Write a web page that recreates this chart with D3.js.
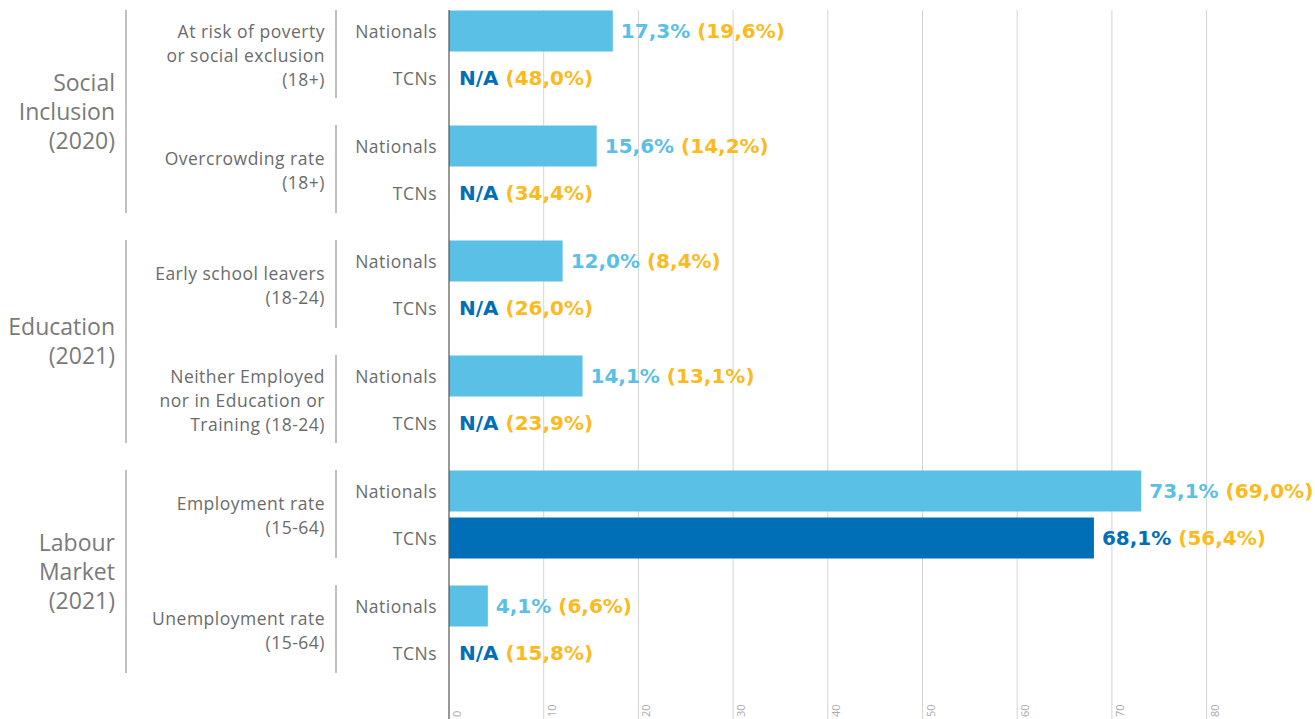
<!DOCTYPE html>
<html>
<head>
<meta charset="utf-8">
<script src="https://cdn.jsdelivr.net/npm/d3@7"></script>
<style>
  body { margin: 0; background: #fff; overflow: hidden; }
  text { font-family: "Open Sans", sans-serif; }
  text.val { font-family: "DejaVu Sans", sans-serif; }
</style>
</head>
<body>
<script>
// data
var sections = ["Social Inclusion (2020)", "Education (2021)", "Labour Market (2021)"];
var sectionLines = [["Social", "Inclusion", "(2020)"], ["Education", "(2021)"], ["Labour", "Market", "(2021)"]];
var metrics = ["poverty", "overcrowding", "earlyleavers", "neet", "employment", "unemployment"];
var metricSection = [0, 0, 1, 1, 2, 2];
var metricLines = [
    ["At risk of poverty", "or social exclusion", "(18+)"],
    ["Overcrowding rate", "(18+)"],
    ["Early school leavers", "(18-24)"],
    ["Neither Employed", "nor in Education or", "Training (18-24)"],
    ["Employment rate", "(15-64)"],
    ["Unemployment rate", "(15-64)"]
];
var series = ["Nationals", "TCNs"];
var nationals = [17.3, 15.6, 12.0, 14.1, 73.1, 4.1];
var tcns = [null, null, null, null, 68.1, null];      // null = N/A
var nationalsRef = [19.6, 14.2, 8.4, 13.1, 69.0, 6.6]; // values in brackets
var tcnsRef = [48.0, 34.4, 26.0, 23.9, 56.4, 15.8];
var xTicks = [0, 10, 20, 30, 40, 50, 60, 70, 80];

var width = 1315, height = 719;
var lightBlue = "#5bc0e6", darkBlue = "#006fb7", yellow = "#fcba1e";

var svg = d3.select("body").append("svg")
    .attr("width", width)
    .attr("height", height);

var x = d3.scaleLinear().domain([0, 90]).range([449, 449 + 90 * 9.47]);

// group bands (one per metric), then a row band inside each
var y = d3.scaleBand().domain(metrics).range([7.5, 676.5]).paddingInner(21 / 115);
var yRow = d3.scaleBand().domain(series).range([0, y.bandwidth()]);

// gridlines
svg.append("g").selectAll("line").data(xTicks.slice(1))
    .enter().append("line")
    .attr("x1", d => x(d)).attr("x2", d => x(d))
    .attr("y1", 10).attr("y2", height)
    .attr("stroke", "#d4d4d4").attr("stroke-width", 1);

// tick labels, rotated
svg.append("g").selectAll("text").data(xTicks)
    .enter().append("text")
    .attr("transform", d => "translate(" + (x(d) + 12) + "," + 717 + ") rotate(-90)")
    .attr("font-size", 11)
    .attr("fill", "#aaa")
    .text(d => d);

// rows: flatten to one record per bar
var rows = [];
metrics.forEach(function(m, i) {
    rows.push({metric: m, s: "Nationals", v: nationals[i], ref: nationalsRef[i], color: lightBlue});
    rows.push({metric: m, s: "TCNs", v: tcns[i], ref: tcnsRef[i], color: darkBlue});
});
function rowY(d) { return y(d.metric) + yRow(d.s); }

svg.append("g").selectAll("rect").data(rows.filter(d => d.v !== null))
    .enter().append("rect")
    .attr("x", x(0))
    .attr("y", d => rowY(d) + 3)
    .attr("width", d => x(d.v) - x(0))
    .attr("height", yRow.bandwidth() - 6)
    .attr("fill", d => d.color);

// axis line
svg.append("line")
    .attr("x1", x(0)).attr("x2", x(0))
    .attr("y1", 10).attr("y2", height)
    .attr("stroke", "#555").attr("stroke-width", 1.2);

function fmt(v) { return d3.format(".1f")(v).replace(".", ",") + "%"; }

var val = svg.append("g").selectAll("text").data(rows)
    .enter().append("text")
    .attr("class", "val")
    .attr("x", d => d.v === null ? x(0) + 10 : x(d.v) + 8)
    .attr("y", d => rowY(d) + yRow.bandwidth() / 2)
    .attr("dy", "0.36em")
    .attr("font-size", 20)
    .attr("font-weight", 700);
val.append("tspan")
    .attr("fill", d => d.v === null ? darkBlue : d.color)
    .text(d => d.v === null ? "N/A" : fmt(d.v));
val.append("tspan")
    .attr("fill", yellow)
    .text(d => " (" + fmt(d.ref) + ")");

// series labels
svg.append("g").selectAll("text").data(rows)
    .enter().append("text")
    .attr("x", 437)
    .attr("y", d => rowY(d) + yRow.bandwidth() / 2 + 1)
    .attr("dy", "0.35em")
    .attr("text-anchor", "end")
    .attr("font-size", 17.5)
    .attr("letter-spacing", 0.5)
    .attr("fill", "#6b6b6b")
    .text(d => d.s);

// metric brackets and labels
svg.append("g").selectAll("line").data(metrics)
    .enter().append("line")
    .attr("x1", 336).attr("x2", 336)
    .attr("y1", d => y(d) + 2.5).attr("y2", d => y(d) + y.bandwidth() - 3.5)
    .attr("stroke", "#aaa").attr("stroke-width", 1.5);

metrics.forEach(function(m, i) {
    var lines = metricLines[i];
    var cy = y(m) + y.bandwidth() / 2 + 1;
    var lh = 24;
    svg.append("text")
        .attr("text-anchor", "end")
        .attr("font-size", 17.5)
        .attr("letter-spacing", 0.5)
        .attr("fill", "#6b6b6b")
        .selectAll("tspan").data(lines)
        .enter().append("tspan")
        .attr("x", 325)
        .attr("y", (d, j) => cy + (j - (lines.length - 1) / 2) * lh)
        .attr("dy", "0.35em")
        .text(d => d);
});

// section brackets and labels
sections.forEach(function(sec, k) {
    var ms = metrics.filter((m, i) => metricSection[i] === k);
    var top = y(ms[0]) + 2.5;
    var bot = y(ms[ms.length - 1]) + y.bandwidth() - 3.5;
    svg.append("line")
        .attr("x1", 126).attr("x2", 126)
        .attr("y1", top).attr("y2", bot)
        .attr("stroke", "#aaa").attr("stroke-width", 1.5);
    var lines = sectionLines[k];
    var cy = (top + bot) / 2;
    svg.append("text")
        .attr("text-anchor", "end")
        .attr("font-size", 23)
        .attr("fill", "#7a7a7a")
        .selectAll("tspan").data(lines)
        .enter().append("tspan")
        .attr("x", 115)
        .attr("y", (d, j) => cy + (j - (lines.length - 1) / 2) * 29)
        .attr("dy", "0.35em")
        .text(d => d);
});
</script>
</body>
</html>
